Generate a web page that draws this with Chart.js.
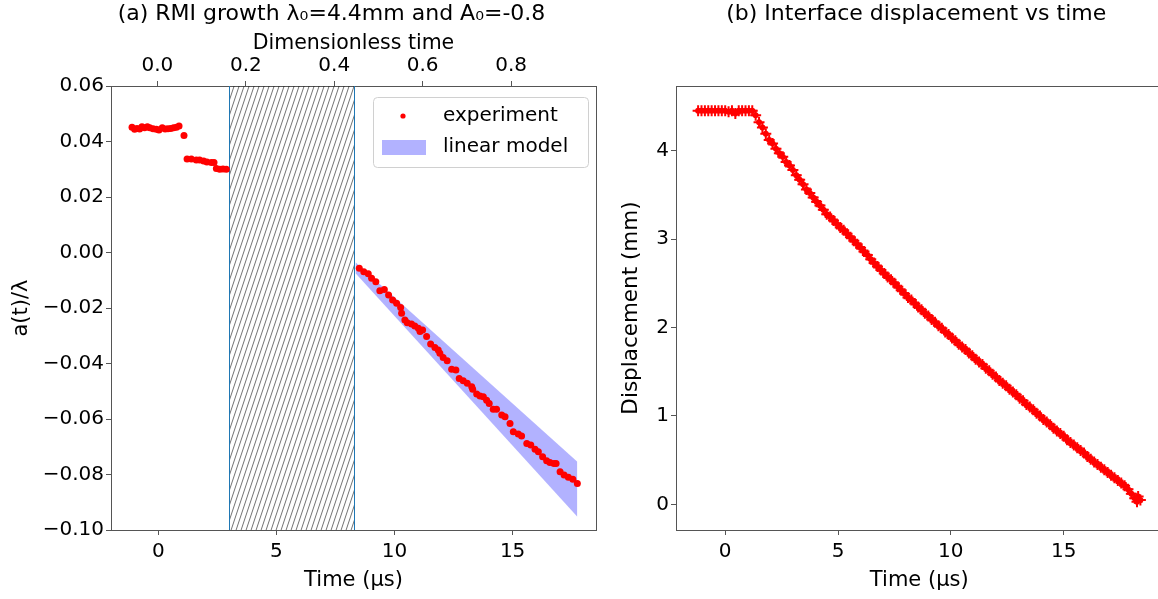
<!DOCTYPE html>
<html><head><meta charset="utf-8">
<script src="https://cdn.jsdelivr.net/npm/chart.js@4.4.0/dist/chart.umd.min.js"></script>
<style>
html,body{margin:0;padding:0;background:#fff;overflow:hidden;width:1158px;height:599px;position:relative;}
#c1{position:absolute;left:0;top:0;width:600px;height:599px;}
#c2{position:absolute;left:600px;top:0;width:570px;height:599px;}
</style></head><body>
<canvas id="c1" width="600" height="599"></canvas>
<canvas id="c2" width="570" height="599"></canvas>
<script>
// ---------- DATA (panel a) ----------
const preTime = [-1.11,-1.00,-0.90,-0.79,-0.69,-0.58,-0.46,-0.36,-0.22,-0.08,0.03,0.17,0.29,0.41,0.53,0.65,0.77,0.88,1.09,1.22,1.40,1.61,1.75,1.92,2.06,2.25,2.36,2.46,2.60,2.74,2.88];
const preAmp  = [0.0451,0.0444,0.0447,0.0445,0.0453,0.0450,0.0453,0.0450,0.0446,0.0444,0.0441,0.0450,0.0445,0.0446,0.0447,0.0450,0.0451,0.0456,0.0422,0.0337,0.0337,0.0333,0.0333,0.0330,0.0326,0.0324,0.0324,0.0303,0.0300,0.0301,0.0300];
const postTime = [8.51,8.70,8.89,9.03,9.21,9.38,9.57,9.75,9.92,10.09,10.26,10.30,10.44,10.54,10.72,10.86,11.01,11.08,11.19,11.36,11.53,11.71,11.85,11.92,12.06,12.23,12.42,12.60,12.74,12.91,13.08,13.27,13.31,13.48,13.62,13.76,13.90,14.01,14.18,14.32,14.54,14.68,14.89,15.03,15.24,15.38,15.60,15.77,15.95,16.09,16.27,16.44,16.58,16.75,16.84,17.01,17.18,17.36,17.55,17.74];
const postAmp  = [-0.0057,-0.0069,-0.0077,-0.0093,-0.0105,-0.0138,-0.0133,-0.0153,-0.0171,-0.0183,-0.0198,-0.0219,-0.0243,-0.0253,-0.0258,-0.0265,-0.0273,-0.0285,-0.0279,-0.0303,-0.0330,-0.0342,-0.0351,-0.0363,-0.0378,-0.0390,-0.0421,-0.0423,-0.0454,-0.0462,-0.0471,-0.0484,-0.0493,-0.0510,-0.0517,-0.0520,-0.0532,-0.0544,-0.0565,-0.0565,-0.0586,-0.0592,-0.0616,-0.0646,-0.0654,-0.0661,-0.0688,-0.0694,-0.0709,-0.0718,-0.0736,-0.0750,-0.0757,-0.0760,-0.0760,-0.0790,-0.0802,-0.0810,-0.0817,-0.0832];
const bandTime  = [8.35, 17.74];
const bandUpper = [-0.0035, -0.0754];
const bandLower = [-0.0075, -0.0952];
const hatchStart = 3.0;
const hatchEnd = 8.3;

// ---------- DATA (panel b) ----------
const dispTime = [-1.20,-1.05,-0.90,-0.75,-0.60,-0.45,-0.30,-0.15,0.00,0.15,0.30,0.45,0.60,0.75,0.90,1.05,1.20,
 1.35,1.50,1.65,1.80,1.95,2.10,2.25,2.40,2.55,2.70,2.85,3.00,3.15,3.30,3.45,3.60,3.75,3.90,4.05,4.20,4.35,4.50,4.65,4.80,4.95,
 5.10,5.25,5.40,5.55,5.70,5.85,6.00,6.15,6.30,6.45,6.60,6.75,6.90,7.05,7.20,7.35,7.50,7.65,7.80,7.95,8.10,8.25,8.40,8.55,8.70,8.85,
 9.00,9.15,9.30,9.45,9.60,9.75,9.90,10.05,10.20,10.35,10.50,10.65,10.80,10.95,11.10,11.25,11.40,11.55,11.70,11.85,12.00,12.15,12.30,
 12.45,12.60,12.75,12.90,13.05,13.20,13.35,13.50,13.65,13.80,13.95,14.10,14.25,14.40,14.55,14.70,14.85,15.00,15.15,15.30,15.45,15.60,
 15.75,15.90,16.05,16.20,16.35,16.50,16.65,16.80,16.95,17.10,17.25,17.40,17.55,17.70,17.85,18.00,18.15,18.25,18.30,18.40];
const dispValue = [4.45,4.45,4.45,4.45,4.45,4.45,4.45,4.45,4.45,4.44,4.45,4.42,4.45,4.45,4.45,4.45,4.45,
 4.40,4.32,4.26,4.19,4.12,4.08,4.02,3.97,3.93,3.87,3.83,3.78,3.72,3.67,3.62,3.56,3.52,3.47,3.42,3.38,3.33,3.28,3.25,3.21,3.17,
 3.13,3.10,3.06,3.02,2.98,2.94,2.90,2.86,2.82,2.77,2.73,2.69,2.65,2.61,2.57,2.54,2.50,2.46,2.42,2.38,2.34,2.31,2.27,2.23,2.20,2.16,
 2.13,2.09,2.06,2.02,1.99,1.95,1.92,1.88,1.85,1.81,1.78,1.75,1.71,1.68,1.64,1.61,1.58,1.54,1.51,1.47,1.44,1.40,1.37,
 1.34,1.30,1.27,1.24,1.20,1.17,1.13,1.10,1.07,1.03,1.00,0.96,0.93,0.90,0.86,0.83,0.80,0.77,0.73,0.70,0.67,0.64,
 0.61,0.58,0.54,0.51,0.48,0.45,0.42,0.39,0.36,0.33,0.30,0.27,0.24,0.21,0.17,0.12,0.07,0.03,0.09,0.05];

// ---------- TICKS ----------
const timeTicks = [0, 5, 10, 15];
const dimlessTicks = [0.0, 0.2, 0.4, 0.6, 0.8];
const ampTicks = [-0.10, -0.08, -0.06, -0.04, -0.02, 0.00, 0.02, 0.04, 0.06];
const dispTicks = [0, 1, 2, 3, 4];

// ---------- HELPERS ----------
const FONT = "'DejaVu Sans', 'Liberation Sans', sans-serif";
const TXT = '#000';
const AXC = '#555';
const fnt = s => ({family: FONT, size: s, weight: 'normal', lineHeight: 1.2});
const f20 = fnt(20);
const minus = s => String(s).replace('-', '\u2212');
const setTicks = vals => (scale) => { scale.ticks = vals.map(v => ({value: v})); };
const pts = (xs, ys) => xs.map((x, i) => ({x: x, y: ys[i]}));

function axisBase(extra) {
  return Object.assign({
    type: 'linear',
    grid: {display: true, drawOnChartArea: false, drawTicks: true, tickLength: 5, tickColor: AXC, tickWidth: 1},
    border: {display: true, color: AXC, width: 1},
    ticks: {color: TXT, font: f20, padding: 2, maxRotation: 0, autoSkip: false}
  }, extra);
}
function dummyAxis(position, size) {
  return {
    type: 'linear', position: position, display: true, min: 0, max: 1,
    grid: {display: false, drawTicks: false},
    border: {display: true, color: AXC, width: 1},
    ticks: {display: false},
    afterFit: s => { if (position === 'top' || position === 'bottom') s.height = size; else s.width = size; }
  };
}

// panel title drawn above the axes
const panelTitle = {
  id: 'panelTitle',
  afterDraw(chart, args, opts) {
    const {ctx, chartArea: a} = chart;
    ctx.save();
    ctx.fillStyle = TXT;
    ctx.font = opts.size + "px " + FONT;
    ctx.textAlign = 'center';
    ctx.textBaseline = 'middle';
    ctx.fillText(opts.text, (a.left + a.right) / 2 + opts.dx, opts.y);
    ctx.restore();
  }
};

// hatch region plugin
const hatchPlugin = {
  id: 'hatch',
  beforeDatasetsDraw(chart) {
    const {ctx, chartArea: a, scales: {x}} = chart;
    const x0 = x.getPixelForValue(hatchStart), x1 = x.getPixelForValue(hatchEnd);
    const H = a.bottom - a.top;
    ctx.save();
    ctx.beginPath(); ctx.rect(x0, a.top, x1 - x0, H); ctx.clip();
    ctx.strokeStyle = 'rgba(20,20,20,0.75)';
    ctx.lineWidth = 0.8;
    ctx.beginPath();
    const dx = H / 3;
    for (let xs = x0 - dx; xs < x1 + 5; xs += 5) {
      ctx.moveTo(xs, a.bottom); ctx.lineTo(xs + dx, a.top);
    }
    ctx.stroke();
    ctx.restore();
    ctx.save();
    ctx.strokeStyle = '#1f77b4'; ctx.lineWidth = 1;
    ctx.beginPath();
    ctx.moveTo(Math.round(x0) + 0.5, a.top); ctx.lineTo(Math.round(x0) + 0.5, a.bottom);
    ctx.moveTo(Math.round(x1) + 0.5, a.top); ctx.lineTo(Math.round(x1) + 0.5, a.bottom);
    ctx.stroke();
    ctx.restore();
  }
};

// legend drawn inside plot (matplotlib style)
const legendPlugin = {
  id: 'mplLegend',
  afterDraw(chart) {
    const {ctx, chartArea: a} = chart;
    const w = 215, h = 70;
    const bx = a.right - 8 - w, by = a.top + 11;
    ctx.save();
    ctx.fillStyle = 'rgba(255,255,255,0.85)';
    ctx.strokeStyle = '#d0d0d0';
    ctx.lineWidth = 1;
    ctx.beginPath();
    if (ctx.roundRect) ctx.roundRect(bx + 0.5, by + 0.5, w, h, 4); else ctx.rect(bx + 0.5, by + 0.5, w, h);
    ctx.fill(); ctx.stroke();
    ctx.fillStyle = '#ff0000';
    ctx.beginPath(); ctx.arc(bx + 30, by + 19, 2.6, 0, Math.PI * 2); ctx.fill();
    ctx.fillStyle = 'rgba(0,0,255,0.3)';
    ctx.fillRect(bx + 9, by + 43, 44, 15);
    ctx.fillStyle = TXT;
    ctx.font = "20px " + FONT;
    ctx.textBaseline = 'middle';
    ctx.textAlign = 'left';
    ctx.fillText('experiment', bx + 70, by + 19);
    ctx.fillText('linear model', bx + 70, by + 50);
    ctx.restore();
  }
};

// ---------- PANEL (a) ----------
new Chart(document.getElementById('c1'), {
  type: 'line',
  data: {
    datasets: [
      {label: 'linear model upper', data: pts(bandTime, bandUpper), borderWidth: 0, pointRadius: 0, order: 2,
       fill: '+1', backgroundColor: 'rgba(0,0,255,0.3)', borderColor: 'rgba(0,0,0,0)', tension: 0},
      {label: 'linear model lower', data: pts(bandTime, bandLower), borderWidth: 0, pointRadius: 0, order: 3,
       fill: false, borderColor: 'rgba(0,0,0,0)', tension: 0},
      {label: 'experiment', data: pts(preTime, preAmp).concat(pts(postTime, postAmp)), showLine: false, order: 0,
       pointRadius: 3.5, pointBackgroundColor: '#ff0000', pointBorderWidth: 0, pointBorderColor: '#ff0000'}
    ]
  },
  options: {
    responsive: false, animation: false, devicePixelRatio: 1,
    layout: {padding: 0},
    plugins: {
      legend: {display: false}, tooltip: {enabled: false}, title: {display: false},
      panelTitle: {text: '(a) RMI growth \u03bb\u2080=4.4mm and A\u2080=-0.8', size: 22, dx: -22, y: 14}
    },
    scales: {
      x: axisBase({position: 'bottom', min: -2.0, max: 18.53,
        afterBuildTicks: setTicks(timeTicks), afterFit: s => { s.height = 69; },
        ticks: {color: TXT, font: f20, padding: 5, maxRotation: 0, autoSkip: false, callback: v => String(v)},
        title: {display: true, text: 'Time (\u00b5s)', color: TXT, font: fnt(21), padding: {top: 0, bottom: 6}}}),
      xTop: axisBase({position: 'top', min: -0.105, max: 0.992,
        afterBuildTicks: setTicks(dimlessTicks), afterFit: s => { s.height = 86; },
        ticks: {color: TXT, font: f20, padding: 3, maxRotation: 0, autoSkip: false, callback: v => Number(v).toFixed(1)},
        title: {display: true, text: 'Dimensionless time', color: TXT, font: fnt(20.5), padding: {top: 31, bottom: 0}}}),
      y: axisBase({position: 'left', min: -0.10, max: 0.06,
        afterBuildTicks: setTicks(ampTicks), afterFit: s => { s.width = 111; },
        ticks: {color: TXT, font: f20, padding: 2, autoSkip: false, callback: v => minus(Number(v).toFixed(2))},
        title: {display: true, text: 'a(t)/\u03bb', color: TXT, font: fnt(21), padding: {top: 9, bottom: 0}}}),
      yRight: dummyAxis('right', 4)
    }
  },
  plugins: [hatchPlugin, legendPlugin, panelTitle]
});

// ---------- PANEL (b) ----------
new Chart(document.getElementById('c2'), {
  type: 'line',
  data: {
    datasets: [
      {label: 'displacement', data: pts(dispTime, dispValue), showLine: false,
       pointStyle: 'cross', pointRadius: 5.5, pointBorderColor: '#ff0000', pointBorderWidth: 2, pointBackgroundColor: '#ff0000'},
      {label: 'displacement marker', data: pts(dispTime, dispValue), showLine: false,
       pointStyle: 'circle', pointRadius: 3, pointBackgroundColor: '#ff0000', pointBorderWidth: 0}
    ]
  },
  options: {
    responsive: false, animation: false, devicePixelRatio: 1,
    layout: {padding: {left: 0, right: 5, top: 0, bottom: 0}},
    plugins: {
      legend: {display: false}, tooltip: {enabled: false}, title: {display: false},
      panelTitle: {text: '(b) Interface displacement vs time', size: 22, dx: -3, y: 14}
    },
    scales: {
      x: axisBase({position: 'bottom', min: -2.18, max: 19.38,
        afterBuildTicks: setTicks(timeTicks), afterFit: s => { s.height = 69; },
        ticks: {color: TXT, font: f20, padding: 5, maxRotation: 0, autoSkip: false, callback: v => String(v)},
        title: {display: true, text: 'Time (\u00b5s)', color: TXT, font: fnt(21), padding: {top: 0, bottom: 6}}}),
      xTop: dummyAxis('top', 86),
      y: axisBase({position: 'left', min: -0.29, max: 4.73,
        afterBuildTicks: setTicks(dispTicks), afterFit: s => { s.width = 76; },
        ticks: {color: TXT, font: f20, padding: 2, autoSkip: false, callback: v => String(v)},
        title: {display: true, text: 'Displacement (mm)', color: TXT, font: fnt(21.5), padding: {top: 19, bottom: 0}}})
    }
  },
  plugins: [panelTitle]
});
</script></body></html>
